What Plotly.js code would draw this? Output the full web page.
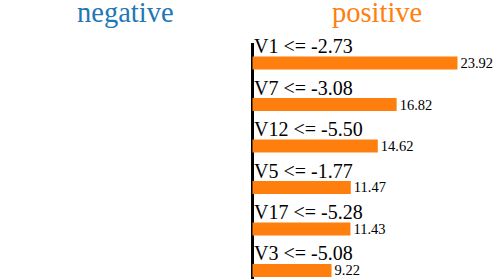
<!DOCTYPE html>
<html>
<head>
<meta charset="utf-8">
<script src="https://cdn.plot.ly/plotly-3.0.1.min.js"></script>
<style>html,body{margin:0;padding:0;background:#fff;overflow:hidden}#chart{width:503px;height:279px}</style>
</head>
<body>
<div id="chart"></div>
<script>
const features = ['V1 <= -2.73', 'V7 <= -3.08', 'V12 <= -5.50', 'V5 <= -1.77', 'V17 <= -5.28', 'V3 <= -5.08'];
const weights = [23.92, 16.82, 14.62, 11.47, 11.43, 9.22];
const classNames = ['negative', 'positive'];

const serif = 'Liberation Serif, Times New Roman, serif';

const trace = {
  type: 'bar',
  orientation: 'h',
  y: features,
  x: weights,
  width: 0.31,
  marker: {color: '#ff7f0e', line: {width: 0}},
  text: weights.map(v => v.toFixed(2)),
  textposition: 'outside',
  constraintext: 'none',
  cliponaxis: false,
  textfont: {family: serif, size: 14.5, color: '#000'},
  hoverinfo: 'none'
};

const annotations = features.map(f => ({
  x: 0, y: f, xref: 'x', yref: 'y',
  text: f, showarrow: false,
  xanchor: 'left', yanchor: 'middle',
  xshift: 0, yshift: 17,
  font: {family: serif, size: 20, color: '#000'}
}));

annotations.push({
  x: 0.25, y: 1, xref: 'paper', yref: 'paper', text: classNames[0], showarrow: false,
  xanchor: 'center', yanchor: 'middle', yshift: 31,
  font: {family: serif, size: 28.5, color: '#1f77b4'}
});
annotations.push({
  x: 0.75, y: 1, xref: 'paper', yref: 'paper', text: classNames[1], showarrow: false,
  xanchor: 'center', yanchor: 'middle', yshift: 31,
  font: {family: serif, size: 28.5, color: '#ff7f0e'}
});

const layout = {
  width: 503, height: 279,
  margin: {l: 0, r: 0, t: 43, b: 0, pad: 0},
  paper_bgcolor: '#fff', plot_bgcolor: '#fff',
  showlegend: false,
  xaxis: {
    range: [-29.46, 29.23],
    showgrid: false, showticklabels: false, ticks: '',
    zeroline: true, zerolinecolor: '#000', zerolinewidth: 3,
    showline: false, fixedrange: true
  },
  yaxis: {
    type: 'category',
    range: [5.205, -0.482],
    showgrid: false, showticklabels: false, ticks: '',
    zeroline: false, showline: false, fixedrange: true
  },
  annotations: annotations
};

Plotly.newPlot('chart', [trace], layout, {displayModeBar: false, staticPlot: true});
</script>
</body>
</html>
